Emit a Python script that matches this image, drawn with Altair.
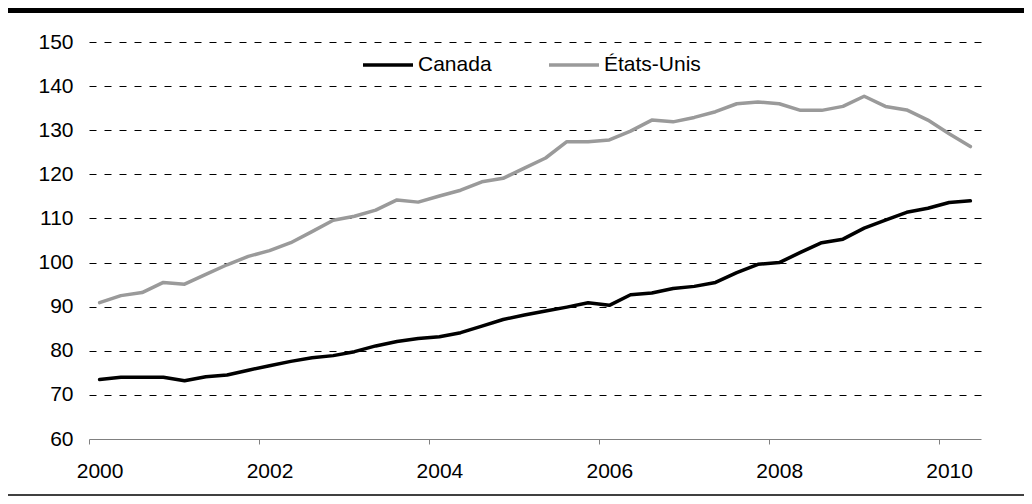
import altair as alt
import pandas as pd

# ---- data (quarterly index, 2000T1 .. 2010T2) ----
quarters = [f"{y}T{q}" for y in range(2000, 2011) for q in range(1, 5)][:42]

canada = [73.5, 74.0, 74.0, 74.0, 73.2, 74.1, 74.5, 75.6, 76.6, 77.6,
          78.4, 78.9, 79.8, 81.1, 82.1, 82.8, 83.2, 84.1, 85.6, 87.1,
          88.1, 89.0, 89.9, 90.9, 90.3, 92.7, 93.1, 94.1, 94.6, 95.5,
          97.7, 99.6, 100.0, 102.3, 104.5, 105.3, 107.8, 109.6, 111.4, 112.3,
          113.6, 114.0]

etats_unis = [90.9, 92.5, 93.2, 95.5, 95.1, 97.3, 99.5, 101.4, 102.7, 104.5,
              107.0, 109.6, 110.5, 111.9, 114.2, 113.7, 115.1, 116.4, 118.3, 119.1,
              121.4, 123.7, 127.4, 127.4, 127.8, 129.8, 132.3, 131.9, 132.9, 134.2,
              136.0, 136.4, 136.0, 134.5, 134.5, 135.4, 137.7, 135.4, 134.6, 132.3,
              129.2, 126.3]

series_names = ["Canada", "États-Unis"]
series_colors = ["#000000", "#9a9a9a"]
year_ticks = [2000, 2002, 2004, 2006, 2008, 2010]
y_ticks = [60, 70, 80, 90, 100, 110, 120, 130, 140, 150]

rows = []
for name, vals in zip(series_names, [canada, etats_unis]):
    for qlab, v in zip(quarters, vals):
        yr, q = qlab.split("T")
        rows.append({"serie": name, "trimestre": qlab,
                     "t": int(yr) + (int(q) - 1) / 4 + 0.125, "valeur": v})
df = pd.DataFrame(rows)

FONT = "Liberation Sans"
FS = 21
W, H = 892, 397
PAD = {"left": 81, "top": 34, "right": 43, "bottom": 57}

lines = alt.Chart(df).mark_line(
    strokeWidth=3.5, strokeCap="round", strokeJoin="round"
).encode(
    x=alt.X("t:Q",
            scale=alt.Scale(domain=[2000, 2010.5], nice=False, zero=False),
            axis=alt.Axis(values=year_ticks, format="d", title=None, grid=False,
                          domain=True, domainColor="#808080", domainWidth=1,
                          ticks=True, tickColor="#808080", tickSize=5, tickWidth=1,
                          labelOffset=10.6, labelPadding=16, labelFontSize=FS,
                          labelFont=FONT, labelColor="#000000", labelFlush=False,
                          labelOverlap=False)),
    y=alt.Y("valeur:Q",
            scale=alt.Scale(domain=[60, 150], nice=False, zero=False),
            axis=alt.Axis(values=y_ticks, title=None, domain=False, ticks=False,
                          grid=True, gridColor="#000000", gridDash=[7, 8], gridWidth=1,
                          gridOpacity={"condition": {"test": "datum.value === 60", "value": 0},
                                       "value": 1},
                          labelPadding=16, labelFontSize=FS, labelFont=FONT,
                          labelColor="#000000")),
    color=alt.Color("serie:N",
                    scale=alt.Scale(domain=series_names, range=series_colors),
                    sort=series_names,
                    legend=alt.Legend(orient="none", legendX=272, legendY=-4,
                                      direction="horizontal", title=None,
                                      symbolType="stroke", symbolSize=2500,
                                      symbolStrokeWidth=3.5, labelFontSize=FS,
                                      labelFont=FONT, labelColor="#000000",
                                      labelOffset=3, columnPadding=50, padding=0)),
)

deco = pd.DataFrame({"k": [0]})
top_bar = alt.Chart(deco).mark_rule(color="#000000", strokeWidth=5).encode(
    x=alt.value(-81), x2=alt.value(935), y=alt.value(-31.5))
bottom_line = alt.Chart(deco).mark_rule(color="#000000", strokeWidth=1.5).encode(
    x=alt.value(-81), x2=alt.value(935), y=alt.value(453))

chart = alt.layer(lines, top_bar, bottom_line).properties(
    width=W, height=H,
    autosize=alt.AutoSizeParams(type="none"),
    padding=PAD,
    background="white",
).configure_view(stroke=None)

chart.save("out.html", embed_options={"renderer": "svg", "actions": False})
